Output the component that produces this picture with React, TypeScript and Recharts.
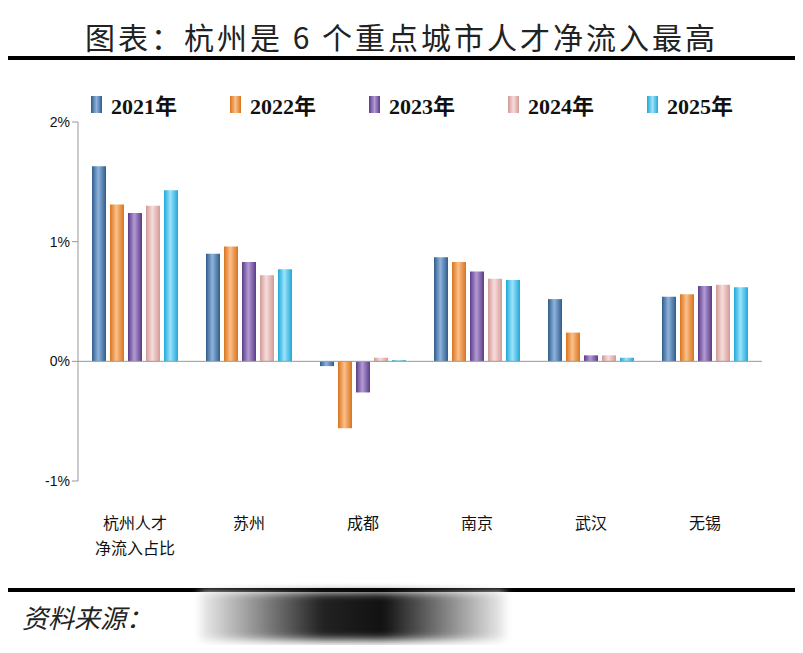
import { BarChart, Bar, XAxis, YAxis, ReferenceLine } from "recharts";

const cities = ["杭州人才\n净流入占比", "苏州", "成都", "南京", "武汉", "无锡"];
const years = ["2021年", "2022年", "2023年", "2024年", "2025年"];
const v2021 = [1.63, 0.9, -0.04, 0.87, 0.52, 0.54];
const v2022 = [1.31, 0.96, -0.56, 0.83, 0.24, 0.56];
const v2023 = [1.24, 0.83, -0.26, 0.75, 0.05, 0.63];
const v2024 = [1.3, 0.72, 0.03, 0.69, 0.05, 0.64];
const v2025 = [1.43, 0.77, 0.01, 0.68, 0.03, 0.62];
const yTicks = [-1, 0, 1, 2];

const series = [v2021, v2022, v2023, v2024, v2025];
const COLORS = [
  ["#2f5c8c", "#8fb3dc"], // steel blue
  ["#d9731f", "#fcc08a"], // orange
  ["#5a3c85", "#b39ad6"], // purple
  ["#d29a98", "#f7dcdb"], // pink
  ["#1ea8d8", "#9be3fb"], // cyan
];

const data = cities.map((c, i) => {
  const row: Record<string, number | string> = { name: c };
  years.forEach((y, k) => (row[y] = series[k][i]));
  return row;
});

const CatTick = ({ x, y, payload }: any) => {
  const lines = String(payload.value).split("\n");
  return (
    <text x={x} y={y + 40} textAnchor="middle" fontSize={16} fill="#111" fontFamily="Noto Sans CJK SC">
      {lines.map((l, i) => (
        <tspan key={i} x={x} dy={i === 0 ? 0 : 25}>
          {l}
        </tspan>
      ))}
    </text>
  );
};

const LegendBox = () => (
  <div style={{ position: "absolute", top: 88, left: 91, display: "flex" }}>
    {years.map((y, i) => (
      <div key={y} style={{ display: "flex", alignItems: "center", width: 139 }}>
        <div
          style={{
            width: 11,
            height: 17,
            background: `linear-gradient(90deg, ${COLORS[i][0]}, ${COLORS[i][1]}, ${COLORS[i][0]})`,
            marginRight: 9,
          }}
        />
        <span style={{ fontFamily: "Liberation Serif, Noto Sans CJK SC", fontWeight: 700, fontSize: 22, color: "#111" }}>
          {y}
        </span>
      </div>
    ))}
  </div>
);

export default function App() {
  return (
    <div style={{ position: "relative", width: 803, height: 653, margin: -8, background: "#fff", overflow: "hidden" }}>
      <div
        style={{
          position: "absolute",
          top: 14,
          width: 803,
          textAlign: "center",
          fontFamily: "Noto Sans CJK SC",
          fontSize: 30,
          letterSpacing: 3,
          color: "#222",
        }}
      >
        图表：杭州是 6 个重点城市人才净流入最高
      </div>
      <div style={{ position: "absolute", top: 56, left: 0, width: 803, height: 4, background: "#000" }} />
      <div style={{ position: "absolute", top: 588, left: 0, width: 803, height: 4, background: "#000" }} />
      <div
        style={{
          position: "absolute",
          top: 598,
          left: 22,
          fontFamily: "Noto Sans CJK SC",
          fontStyle: "italic",
          fontSize: 26,
          color: "#222",
        }}
      >
        资料来源：
      </div>
      <div
        style={{
          position: "absolute",
          top: 592,
          left: 200,
          width: 305,
          height: 48,
          background: "linear-gradient(90deg, #eee, #222 40%, #111 60%, #eee)",
          filter: "blur(4px)",
        }}
      />
      <div style={{ position: "absolute", top: 0, left: 0 }}>
        <BarChart
          width={803}
          height={653}
          data={data}
          margin={{ top: 122, left: 38, right: 41, bottom: 112 }}
          barSize={14}
          barGap={4}
        >
          <defs>
            {COLORS.map((c, i) => (
              <linearGradient key={i} id={`g${i}`} x1="0" y1="0" x2="1" y2="0">
                <stop offset="0%" stopColor={c[0]} />
                <stop offset="45%" stopColor={c[1]} />
                <stop offset="100%" stopColor={c[0]} />
              </linearGradient>
            ))}
          </defs>
          <YAxis
            width={40}
            domain={[-1, 2]}
            ticks={yTicks}
            tickFormatter={(v) => `${v}%`}
            axisLine={{ stroke: "#999" }}
            tickLine={{ stroke: "#999" }}
            tick={{ fontSize: 14, fill: "#111", fontFamily: "Liberation Sans" }}
          />
          <XAxis dataKey="name" axisLine={false} tickLine={false} tick={<CatTick />} height={60} interval={0} />
          <ReferenceLine y={0} stroke="#999" />
          {years.map((y, i) => (
            <Bar key={y} dataKey={y} fill={`url(#g${i})`} isAnimationActive={false} />
          ))}
        </BarChart>
      </div>
      <LegendBox />
    </div>
  );
}
